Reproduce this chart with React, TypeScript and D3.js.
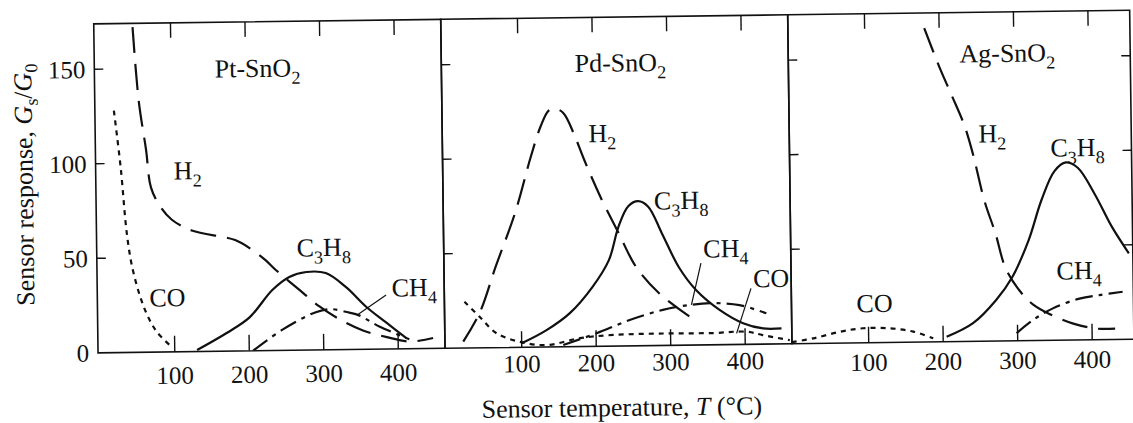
import React from "react";
import * as d3 from "d3";

type P = [number, number];

// ---------- data ----------
const panelTitles = ["Pt-SnO", "Pd-SnO", "Ag-SnO"];
const titleSub = "2";
const xTickValues = [100, 200, 300, 400];
const yTickValues = [50, 100, 150];
const yLabelValues = [0, 50, 100, 150];

// Pt-SnO2
const ptH2: P[] = [[49, 172], [56, 133], [65, 107], [71, 87], [83, 77], [98, 70], [125, 64], [183, 58.7], [206, 53.3], [223, 48], [237, 42.6], [268, 32], [295, 23], [322, 16], [353, 10], [385, 6.3], [416, 3.8], [447, 5.5]];
const ptCO: P[] = [[22.5, 128], [30.6, 98], [37.7, 63], [44.4, 45], [55.7, 28], [66.8, 17], [77.6, 10], [96, 2.6]];
const ptC3H8: P[] = [[130, 0.8], [170, 9.6], [201, 17.7], [232, 32], [255, 38.8], [278, 41.3], [304, 40.6], [331, 33], [358, 22.4], [385, 13.8], [411, 5.7]];
const ptCH4: P[] = [[205, 0], [245, 11], [290, 20], [310, 21.5], [335, 19.5], [348, 18], [375, 12], [415, 5]];

// Pd-SnO2
const pdH2: P[] = [[21.6, 3.4], [44, 18.4], [66.4, 42.8], [93.3, 71], [115.6, 100.8], [129, 116.5], [140.3, 125], [149.1, 126], [160.4, 123.4], [173.8, 112.4], [187.2, 98.6], [209.5, 77.9], [232, 59.8], [254.4, 42], [285.6, 27.5], [326, 15]];
const pdCO: P[] = [[23.9, 24.5], [44, 16.4], [66.4, 7.6], [97.7, 2.9], [133.5, 1], [178, 4.4], [222.7, 5.9], [289.8, 6.3], [356.5, 6.2], [401.7, 6.7], [423.6, 4.8], [459.9, 1.9]];
const pdC3H8: P[] = [[100, 2.1], [133.6, 8.9], [164.8, 17.6], [196.1, 31.5], [218.5, 45.5], [231.9, 63], [245.4, 73.9], [258.8, 76.5], [272.2, 73.5], [290, 59.4], [312.5, 41.1], [334.9, 29.1], [366.2, 18.4], [397.5, 11.2], [424.3, 8.3], [449, 8.2]];
const pdCH4: P[] = [[155.8, 0.9], [200.7, 6.9], [245.4, 13.7], [290, 18.8], [325.9, 21.2], [357.2, 22], [393, 20.8], [428.9, 16.3]];

// Ag-SnO2
const agH2: P[] = [[180, 166], [200, 145], [216, 130], [232, 114.5], [243, 99.4], [258, 74], [272, 57], [285, 38.5], [303, 26.7], [321, 19.2], [343, 14], [375, 8.7], [406, 5.9], [431, 5.8]];
const agCO: P[] = [[-3, 0.9], [25.6, 2.7], [61.5, 6], [92.8, 7.7], [128.6, 7.5], [159.9, 5.6], [186.7, 1.9]];
const agC3H8: P[] = [[204.7, 2.6], [240.4, 9.6], [271.8, 21.7], [294.1, 33.9], [316.5, 53.2], [334.4, 74.3], [352.3, 89.5], [367.9, 94], [383.6, 91.1], [406, 77], [428.3, 59.7], [450.7, 45.5]];
const agCH4: P[] = [[298.7, 4], [321, 10.9], [347.8, 16.9], [383.6, 21.9], [410.5, 23.6], [441.7, 25.2]];

// gas labels: [gas, x, y] in data units
const ptLabels: [string, number, number][] = [["H2", 120.5, 96], ["CO", 91, 29], ["C3H8", 301.7, 54.4], ["CH4", 422.5, 32.6]];
const pdLabels: [string, number, number][] = [["H2", 211.8, 112.8], ["C3H8", 316.5, 76.8], ["CH4", 375.6, 51], ["CO", 436, 35]];
const agLabels: [string, number, number][] = [["H2", 269.5, 110], ["C3H8", 383.6, 102], ["CH4", 383.6, 37], ["CO", 108.5, 21]];
const titlePos: P[] = [[216, 149.6], [237.3, 150], [291, 152.4]];

// leader lines in data units
const ptLeaders: P[][] = [[[384.6, 28.6], [346, 18.3]]];
const pdLeaders: P[][] = [[[342, 43.3], [328.5, 21.2]], [[408.7, 29.6], [388.6, 5.9]]];
const agLeaders: P[][] = [];

const xTitle = "Sensor temperature, ";
const yTitle = "Sensor response, ";

// ---------- layout / style ----------
const W = 1133, H = 423;
const ROT = -0.75, CX = 620, CY = 346;
const PX_PER_UNIT = 0.745;
const panelLeft = [98, 445, 792];
const panelWidth = [347, 347, 342];
const tickLabelOffset = [32, 25, 28];
const FONT = "'Liberation Serif', 'Times New Roman', Times, serif";
const INK = "#111";

const dashOf: Record<string, string | undefined> = {
  H2: "26 11",
  CO: "5 5",
  C3H8: undefined,
  CH4: "18 6 4 6",
};

const formula: Record<string, [string, boolean][]> = {
  H2: [["H", false], ["2", true]],
  CO: [["CO", false]],
  C3H8: [["C", false], ["3", true], ["H", false], ["8", true]],
  CH4: [["CH", false], ["4", true]],
};

function Formula({ x, y, parts, size }: { x: number; y: number; parts: [string, boolean][]; size: number }) {
  const sub = size * 0.7;
  const shift = size * 0.28;
  let cur = 0;
  return (
    <text x={x} y={y + size * 0.35} textAnchor="middle" fontSize={size} fontFamily={FONT} fill={INK}>
      {parts.map(([t, isSub], i) => {
        const target = isSub ? shift : 0;
        const d = target - cur;
        cur = target;
        return (
          <tspan key={i} dy={d !== 0 ? d : undefined} fontSize={isSub ? sub : size}>
            {t}
          </tspan>
        );
      })}
    </text>
  );
}

export default function App() {
  const yScale = d3.scaleLinear().domain([0, 174]).range([346, 17]);
  const y0 = yScale(0);
  const yTop = yScale(174);

  const panels = [
    { series: { H2: ptH2, CO: ptCO, C3H8: ptC3H8, CH4: ptCH4 }, labels: ptLabels, leaders: ptLeaders },
    { series: { H2: pdH2, CO: pdCO, C3H8: pdC3H8, CH4: pdCH4 }, labels: pdLabels, leaders: pdLeaders },
    { series: { H2: agH2, CO: agCO, C3H8: agC3H8, CH4: agCH4 }, labels: agLabels, leaders: agLeaders },
  ];

  return (
    <svg width={W} height={H} style={{ position: "absolute", left: 0, top: 0, background: "#fff" }}>
      <rect x={0} y={0} width={W} height={H} fill="#fff" />
      <g transform={`rotate(${ROT},${CX},${CY})`}>
        {panels.map((p, i) => {
          const left = panelLeft[i];
          const w = panelWidth[i];
          const xs = d3.scaleLinear().domain([-3, -3 + w / PX_PER_UNIT]).range([left, left + w]);
          const line = d3
            .line<P>()
            .x((d) => xs(d[0]))
            .y((d) => yScale(d[1]))
            .curve(d3.curveCatmullRom.alpha(0.5));
          const clipId = `clip${i}`;
          return (
            <g key={i}>
              <defs>
                <clipPath id={clipId}>
                  <rect x={left} y={yTop} width={w} height={y0 - yTop} />
                </clipPath>
              </defs>
              {/* frame */}
              <rect x={left} y={yTop} width={w} height={y0 - yTop} fill="none" stroke={INK} strokeWidth={1.6} />
              {/* x ticks */}
              {xTickValues.map((v) => (
                <g key={v}>
                  <line x1={xs(v)} x2={xs(v)} y1={y0} y2={y0 - 16} stroke={INK} strokeWidth={1.4} />
                  <line x1={xs(v)} x2={xs(v)} y1={yTop} y2={yTop + 15} stroke={INK} strokeWidth={1.4} />
                  <text x={xs(v)} y={y0 + tickLabelOffset[i]} textAnchor="middle" fontSize={25} fontFamily={FONT} fill={INK}>
                    {v}
                  </text>
                </g>
              ))}
              {/* y ticks */}
              {yTickValues.map((v) => (
                <g key={v}>
                  <line x1={left} x2={left + 9} y1={yScale(v)} y2={yScale(v)} stroke={INK} strokeWidth={1.4} />
                  {i === 2 && (
                    <line x1={left + w} x2={left + w - 9} y1={yScale(v)} y2={yScale(v)} stroke={INK} strokeWidth={1.4} />
                  )}
                </g>
              ))}
              {i === 0 &&
                yLabelValues.map((v) => (
                  <text key={v} x={left - 9} y={yScale(v) + 25 * 0.35} textAnchor="end" fontSize={25} fontFamily={FONT} fill={INK}>
                    {v}
                  </text>
                ))}
              {/* curves */}
              <g clipPath={`url(#${clipId})`}>
                {(Object.keys(p.series) as (keyof typeof p.series)[]).map((g) => (
                  <path
                    key={g}
                    d={line(p.series[g]) || ""}
                    fill="none"
                    stroke={INK}
                    strokeWidth={2.2}
                    strokeDasharray={dashOf[g]}
                  />
                ))}
              </g>
              {/* leaders */}
              {p.leaders.map((l, k) => (
                <line key={k} x1={xs(l[0][0])} y1={yScale(l[0][1])} x2={xs(l[1][0])} y2={yScale(l[1][1])} stroke={INK} strokeWidth={1.2} />
              ))}
              {/* labels */}
              {p.labels.map(([g, lx, ly]) => (
                <Formula key={g} x={xs(lx)} y={yScale(ly)} parts={formula[g]} size={26} />
              ))}
              <Formula x={xs(titlePos[i][0])} y={yScale(titlePos[i][1])} parts={[[panelTitles[i], false], [titleSub, true]]} size={26} />
            </g>
          );
        })}
        {/* axis titles */}
        <text x={621} y={416} textAnchor="middle" fontSize={26} fontFamily={FONT} fill={INK}>
          {xTitle}
          <tspan fontStyle="italic">T</tspan>
          {" (°C)"}
        </text>
        <text
          transform={`translate(35,177) rotate(-90)`}
          x={0}
          y={0}
          textAnchor="middle"
          fontSize={26}
          fontFamily={FONT}
          fill={INK}
        >
          {yTitle}
          <tspan fontStyle="italic">G</tspan>
          <tspan fontSize={18} dy={6}>s</tspan>
          <tspan dy={-6}>/</tspan>
          <tspan fontStyle="italic">G</tspan>
          <tspan fontSize={18} dy={6}>0</tspan>
        </text>
      </g>
    </svg>
  );
}
